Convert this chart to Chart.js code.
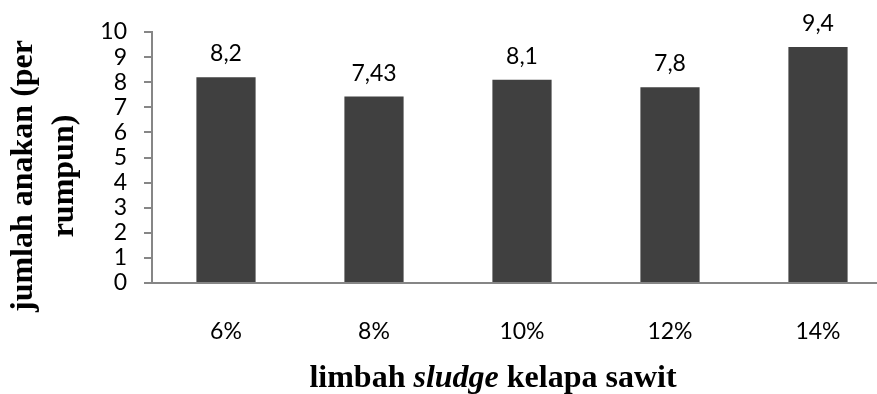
<!DOCTYPE html>
<html>
<head>
<meta charset="utf-8">
<script src="https://cdn.jsdelivr.net/npm/chart.js@4"></script>
<style>
  html, body { margin: 0; padding: 0; background: #fff; overflow: hidden; }
  #wrap { width: 877px; height: 394px; overflow: hidden; }
  canvas { display: block; }
</style>
</head>
<body>
<div id="wrap"><canvas id="anakanChart" width="920" height="394"></canvas></div>
<script>
const categories = ["6%", "8%", "10%", "12%", "14%"];
const jumlahAnakan = [8.2, 7.43, 8.1, 7.8, 9.4];
const yTickValues = [0, 1, 2, 3, 4, 5, 6, 7, 8, 9, 10];

const axisGray = "#868686";
const tickFont = { family: "Lato", size: 23 };

// angka di atas batang, pakai koma desimal
const barLabels = {
  id: "barLabels",
  afterDatasetsDraw(chart) {
    const ctx = chart.ctx;
    const meta = chart.getDatasetMeta(0);
    ctx.save();
    ctx.font = "23px Lato";
    ctx.fillStyle = "#000";
    ctx.textAlign = "center";
    ctx.textBaseline = "alphabetic";
    meta.data.forEach((bar, i) => {
      ctx.fillText(String(jumlahAnakan[i]).replace(".", ","), bar.x, bar.y - 16);
    });
    ctx.restore();
  }
};

// judul sumbu (sludge dicetak miring)
const axisTitles = {
  id: "axisTitles",
  afterDraw(chart) {
    const ctx = chart.ctx;
    ctx.save();
    ctx.fillStyle = "#000";
    ctx.textBaseline = "alphabetic";

    const parts = [
      ["limbah ", "bold 32px 'Liberation Serif'"],
      ["sludge", "italic bold 32px 'Liberation Serif'"],
      [" kelapa sawit", "bold 32px 'Liberation Serif'"]
    ];
    let total = 0;
    parts.forEach(p => { ctx.font = p[1]; total += ctx.measureText(p[0]).width; });
    let x = 493 - total / 2;
    ctx.textAlign = "left";
    parts.forEach(p => {
      ctx.font = p[1];
      ctx.fillText(p[0], x, 387);
      x += ctx.measureText(p[0]).width;
    });

    ctx.font = "bold 32px 'Liberation Serif'";
    ctx.textAlign = "center";
    ctx.translate(0, 176);
    ctx.rotate(-Math.PI / 2);
    ctx.fillText("jumlah anakan (per", 0, 32);
    ctx.fillText("rumpun)", 0, 73);
    ctx.restore();
  }
};

new Chart(document.getElementById("anakanChart"), {
  type: "bar",
  data: {
    labels: categories,
    datasets: [{
      data: jumlahAnakan,
      backgroundColor: "#404040",
      barPercentage: 0.4,
      categoryPercentage: 1.0
    }]
  },
  options: {
    responsive: false,
    animation: false,
    layout: { padding: { left: 0, top: 32, right: 28, bottom: 0 } },
    plugins: {
      legend: { display: false },
      tooltip: { enabled: false }
    },
    scales: {
      x: {
        grid: { display: false },
        border: { display: true, color: axisGray, width: 2 },
        ticks: { color: "#000", font: tickFont, padding: 27 },
        afterFit(scale) { scale.height = 111; }
      },
      y: {
        min: yTickValues[0],
        max: yTickValues[yTickValues.length - 1],
        ticks: { stepSize: 1, autoSkip: false, color: "#000", font: tickFont, padding: 17 },
        grid: { drawOnChartArea: false, drawTicks: true, tickLength: 8, color: axisGray, lineWidth: 2 },
        border: { color: axisGray, width: 2 },
        afterFit(scale) { scale.width = 152; }
      }
    }
  },
  plugins: [barLabels, axisTitles]
});
</script>
</body>
</html>
